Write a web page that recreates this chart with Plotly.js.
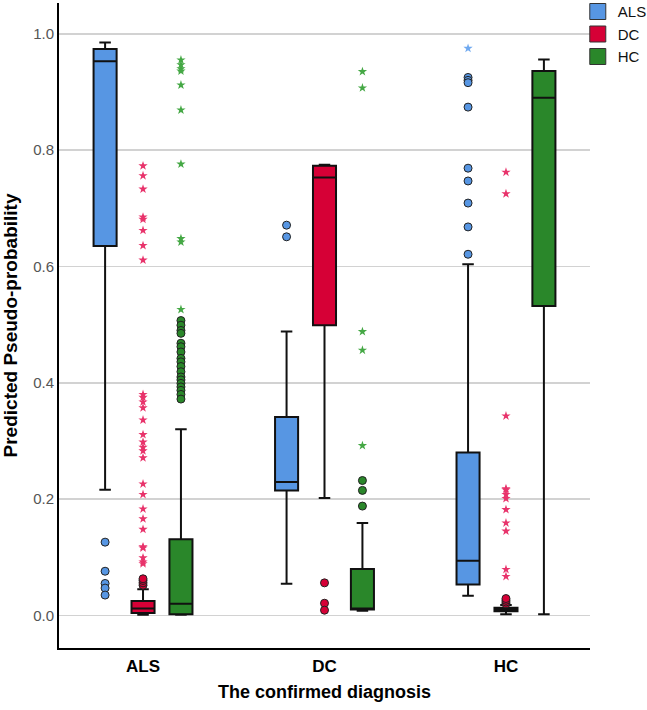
<!DOCTYPE html>
<html>
<head>
<meta charset="utf-8">
<script src="https://cdn.plot.ly/plotly-3.0.1.min.js"></script>
<style>html,body{margin:0;padding:0;background:#fff;}#chart{width:647px;height:710px;}</style>
</head>
<body>
<div id="chart"></div>
<script>
// Categories (confirmed diagnosis) and series (predicted class)
const categories = ['ALS', 'DC', 'HC'];
const seriesNames = ['ALS', 'DC', 'HC'];

// Box statistics per series, one value per category (ALS, DC, HC)
const lowALS = [0.216, 0.0545, 0.034];
const q1ALS  = [0.635, 0.215, 0.053];
const medALS = [0.953, 0.2295, 0.094];
const q3ALS  = [0.974, 0.341, 0.280];
const highALS = [0.985, 0.488, 0.604];

const lowDC = [0.001, 0.202, 0.002];
const q1DC  = [0.004, 0.499, 0.007];
const medDC = [0.012, 0.753, 0.010];
const q3DC  = [0.025, 0.773, 0.013];
const highDC = [0.045, 0.775, 0.018];

const lowHC = [0.001, 0.008, 0.002];
const q1HC  = [0.002, 0.010, 0.532];
const medHC = [0.020, 0.010, 0.890];
const q3HC  = [0.131, 0.080, 0.936];
const highHC = [0.320, 0.159, 0.956];

// Outliers (circles) and extremes (stars): series ALS
const outALS_inALS = [0.126, 0.076, 0.055, 0.047, 0.035];
const outALS_inDC = [0.671, 0.651];
const outALS_inHC = [0.925, 0.920, 0.916, 0.874, 0.769, 0.747, 0.709, 0.668, 0.621];
const extALS_inHC = [0.975];

// series DC
const outDC_inALS = [0.052, 0.056, 0.060, 0.063];
const extDC_inALS = [0.773, 0.756, 0.733, 0.685, 0.681, 0.662, 0.636, 0.611, 0.380, 0.375, 0.367, 0.357, 0.336, 0.311, 0.298, 0.289, 0.283, 0.271, 0.226, 0.208, 0.183, 0.166, 0.148, 0.118, 0.116, 0.099, 0.092, 0.089];
const outDC_inDC = [0.056, 0.021, 0.009];
const outDC_inHC = [0.020, 0.023, 0.026, 0.029];
const extDC_inHC = [0.762, 0.725, 0.343, 0.218, 0.216, 0.208, 0.201, 0.182, 0.159, 0.145, 0.079, 0.067];

// series HC
const outHC_inALS = [0.507, 0.499, 0.490, 0.485, 0.468, 0.462, 0.453, 0.442, 0.436, 0.428, 0.419, 0.410, 0.405, 0.399, 0.393, 0.387, 0.380, 0.372];
const extHC_inALS = [0.955, 0.947, 0.940, 0.936, 0.912, 0.869, 0.776, 0.648, 0.642, 0.526];
const outHC_inDC = [0.232, 0.215, 0.188];
const extHC_inDC = [0.935, 0.907, 0.488, 0.456, 0.292];

// ---- styling / layout ----
const fills = ['#5796e3', '#d60036', '#2a872a'];
const starColors = ['#6fa9f0', '#e8336b', '#45a845'];
const offsets = [-0.209, 0, 0.209];
const boxW = 0.127;
const FONT = 'Liberation Sans, Arial, sans-serif';

const stats = [
  {low: lowALS, q1: q1ALS, med: medALS, q3: q3ALS, high: highALS},
  {low: lowDC, q1: q1DC, med: medDC, q3: q3DC, high: highDC},
  {low: lowHC, q1: q1HC, med: medHC, q3: q3HC, high: highHC}
];
const outs = [
  [outALS_inALS, outALS_inDC, outALS_inHC],
  [outDC_inALS, outDC_inDC, outDC_inHC],
  [outHC_inALS, outHC_inDC, []]
];
const exts = [
  [[], [], extALS_inHC],
  [extDC_inALS, [], extDC_inHC],
  [extHC_inALS, extHC_inDC, []]
];

const traces = [];
seriesNames.forEach((name, s) => {
  const xs = categories.map((c, i) => i + offsets[s]);
  traces.push({
    type: 'box', name: name, showlegend: false, hoverinfo: 'skip',
    x: xs, q1: stats[s].q1, median: stats[s].med, q3: stats[s].q3,
    lowerfence: stats[s].low, upperfence: stats[s].high,
    width: boxW, whiskerwidth: 0.5,
    fillcolor: fills[s], line: {color: '#111111', width: 2}
  });
});
seriesNames.forEach((name, s) => {
  const ox = [], oy = [], ex = [], ey = [];
  categories.forEach((c, i) => {
    outs[s][i].forEach(v => { ox.push(i + offsets[s]); oy.push(v); });
    exts[s][i].forEach(v => { ex.push(i + offsets[s]); ey.push(v); });
  });
  traces.push({
    type: 'scatter', mode: 'markers', x: ox, y: oy, showlegend: false, hoverinfo: 'skip',
    marker: {symbol: 'circle', size: 8, color: fills[s], line: {color: '#222', width: 1}}
  });
  traces.push({
    type: 'scatter', mode: 'markers', x: ex, y: ey, showlegend: false, hoverinfo: 'skip',
    marker: {symbol: 'star', size: 7, color: starColors[s], line: {width: 0}}
  });
});
// legend entries
seriesNames.forEach((name, s) => {
  traces.push({
    type: 'scatter', mode: 'markers', x: [null], y: [null], name: name, showlegend: true,
    marker: {symbol: 'square', size: 16, color: fills[s], line: {color: '#333', width: 1}}
  });
});

const layout = {
  width: 647, height: 710,
  margin: {l: 59, r: 57, t: 3, b: 62, autoexpand: false},
  paper_bgcolor: '#ffffff', plot_bgcolor: '#ffffff',
  font: {family: FONT, color: '#000'},
  showlegend: true,
  legend: {x: 0.977, xanchor: 'left', y: 1.012, yanchor: 'top', font: {size: 15, family: FONT, color: '#111'},
           bgcolor: 'rgba(0,0,0,0)', tracegroupgap: 0, itemwidth: 30},
  xaxis: {
    range: [-0.463, 2.463], tickmode: 'array', tickvals: [0, 1, 2], ticktext: categories,
    showgrid: false, zeroline: false, showline: true, linecolor: '#000', linewidth: 2,
    ticks: 'outside', ticklen: 2, tickcolor: 'rgba(0,0,0,0)',
    tickfont: {size: 17, family: FONT, weight: 'bold', color: '#000'},
    title: {text: 'The confirmed diagnosis', font: {size: 18, family: FONT, weight: 'bold', color: '#000'}, standoff: 10}
  },
  yaxis: {
    range: [-0.056, 1.053], tickmode: 'array', tickvals: [0, 0.2, 0.4, 0.6, 0.8, 1.0],
    ticktext: ['0.0', '0.2', '0.4', '0.6', '0.8', '1.0'],
    showgrid: true, gridcolor: '#d2d2d2', gridwidth: 1.5, zeroline: false,
    showline: true, linecolor: '#000', linewidth: 2,
    ticks: '', 
    tickfont: {size: 15, family: FONT, color: '#555'},
    title: {text: 'Predicted Pseudo-probability', font: {size: 19, family: FONT, weight: 'bold', color: '#000'}, standoff: 10}
  }
};

Plotly.newPlot('chart', traces, layout, {displayModeBar: false, staticPlot: true});
</script>
</body>
</html>
